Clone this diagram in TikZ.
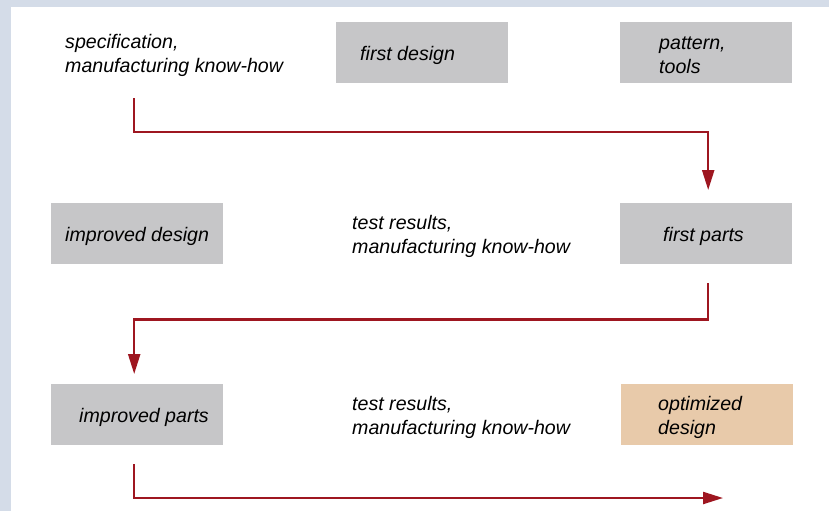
\documentclass[tikz,border=0pt]{standalone}
\usepackage{fontspec}
\setmainfont{Liberation Sans}
\usetikzlibrary{positioning,arrows.meta}

\definecolor{panelbg}{RGB}{212,220,232}
\definecolor{boxgray}{RGB}{198,198,200}
\definecolor{boxsand}{RGB}{232,202,170}
\definecolor{arrowred}{RGB}{158,22,32}

\tikzset{
	stagebox/.style={fill=boxgray, minimum width=172pt, minimum height=61pt, inner sep=0pt, anchor=north west},
	txt/.style={inner sep=0pt, align=left, yshift=-2.5pt, font=\fontsize{19.6pt}{24pt}\selectfont\itshape},
	flow/.style={draw=arrowred, line width=2.2pt, -{Triangle[width=12pt,length=20pt]}}
}

\begin{document}
\begin{tikzpicture}[x=1pt, y=-1pt]
		% panel
		\fill [panelbg] (0,0) rectangle (829,511);
		\fill [white] (11,7) rectangle (829,511);
		
		% boxes
		\node [stagebox] (fd) at (336,22) {};
		\node [stagebox] (pt) at (620,22) {};
		\node [stagebox] (id) at (51,203) {};
		\node [stagebox] (fp) at (620,203) {};
		\node [stagebox] (ip) at (51,384) {};
		\node [stagebox, fill=boxsand] (od) at (621,384) {};
		
		% texts
		\node [txt, anchor=west] (spec) at (65,52.5) {specification,\\manufacturing know-how};
		\node [txt, right=24pt of fd.west] (fdt) {first design};
		\node [txt, right=39pt of pt.west] (ptt) {pattern,\\tools};
		\node [txt, right=14pt of id.west] (idt) {improved design};
		\node [txt, anchor=west] (tra) at (352,233.5) {test results,\\manufacturing know-how};
		\node [txt, right=43pt of fp.west] (fpt) {first parts};
		\node [txt, right=28pt of ip.west] (ipt) {improved parts};
		\node [txt, anchor=west] (trb) at (352,414.5) {test results,\\manufacturing know-how};
		\node [txt, right=37pt of od.west] (odt) {optimized\\design};
		
		% arrows
		\coordinate (start) at (134,98);
		\coordinate (finish) at (723,498);
		\draw [flow] (start) -- ++(0,34) -| ([xshift=2pt,yshift=13pt]fp.north);
		\draw [flow] ([xshift=2pt,yshift=-19pt]fp.south) -- ++(0,36) -| ([xshift=-3pt,yshift=10pt]ip.north);
		\draw [flow] ([xshift=-3pt,yshift=-19pt]ip.south) |- (finish);
		
\end{tikzpicture}
\end{document}
